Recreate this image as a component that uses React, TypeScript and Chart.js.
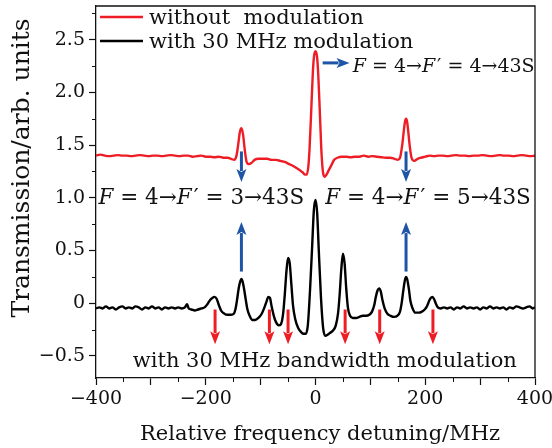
import React, { useEffect, useRef } from 'react';
import { Chart, registerables } from 'chart.js';

Chart.register(...registerables);

// ---------- data ----------
const seriesLabels = ['without  modulation', 'with 30 MHz modulation'];

const redX = [
  -400, -392, -384, -376, -368, -360, -352, -344, -336, -328, -320, -312, -304, -296, -288, -280,
  -272, -264, -256, -248, -240, -232, -224, -216, -208, -200, -192, -184, -176, -168, -160, -154,
  -148, -144, -141, -138, -135, -132, -129, -126, -122, -117, -111, -104, -96, -88, -80, -72,
  -64, -56, -48, -40, -34, -28, -23, -19, -16, -13, -11, -8, -5, -3, 0, 3,
  5, 8, 11, 14, 17, 20, 24, 29, 34, 40, 48, 56, 64, 72, 80, 88,
  96, 104, 112, 120, 128, 136, 144, 150, 154, 158, 161, 163, 165, 167, 169, 172,
  175, 180, 186, 192, 200, 208, 216, 224, 232, 240, 248, 256, 264, 272, 280, 288,
  296, 304, 312, 320, 328, 336, 344, 352, 360, 368, 376, 384, 392, 400,
];
const redY = [
  1.40, 1.41, 1.40, 1.395, 1.40, 1.405, 1.40, 1.40, 1.395, 1.40, 1.405, 1.40, 1.395, 1.40, 1.40, 1.395,
  1.40, 1.405, 1.40, 1.395, 1.40, 1.40, 1.39, 1.395, 1.40, 1.39, 1.39, 1.385, 1.39, 1.38, 1.38, 1.37,
  1.36, 1.40, 1.50, 1.62, 1.66, 1.60, 1.46, 1.35, 1.32, 1.33, 1.36, 1.37, 1.37, 1.37, 1.36, 1.36,
  1.35, 1.34, 1.32, 1.30, 1.28, 1.26, 1.24, 1.22, 1.22, 1.30, 1.45, 1.80, 2.17, 2.33, 2.39, 2.33,
  2.17, 1.80, 1.42, 1.23, 1.20, 1.22, 1.26, 1.31, 1.36, 1.38, 1.39, 1.39, 1.385, 1.39, 1.39, 1.40,
  1.39, 1.395, 1.39, 1.385, 1.38, 1.38, 1.37, 1.36, 1.38, 1.50, 1.64, 1.72, 1.75, 1.72, 1.63, 1.48,
  1.38, 1.35, 1.37, 1.38, 1.39, 1.40, 1.395, 1.40, 1.40, 1.395, 1.40, 1.405, 1.40, 1.40, 1.395, 1.40,
  1.40, 1.405, 1.40, 1.395, 1.40, 1.405, 1.40, 1.40, 1.395, 1.40, 1.405, 1.40, 1.395, 1.40,
];

const blackX = [
  -400, -394, -388, -382, -376, -370, -364, -358, -352, -346, -340, -334, -328, -322, -316, -310,
  -304, -298, -292, -286, -280, -274, -268, -262, -256, -250, -244, -238, -234, -231, -226, -220,
  -214, -208, -202, -197, -192, -188, -184, -180, -176, -172, -166, -160, -154, -149, -146, -143,
  -140, -137, -135, -133, -130, -127, -124, -120, -115, -110, -104, -98, -93, -89, -86, -83,
  -80, -76, -72, -67, -63, -59, -56, -53, -50, -47, -44, -41, -37, -32, -27, -22,
  -18, -14, -10, -6, -3, 0, 3, 6, 10, 14, 18, 22, 27, 32, 37, 41,
  44, 47, 50, 53, 56, 59, 63, 68, 74, 80, 86, 92, 98, 103, 107, 110,
  113, 116, 119, 122, 126, 131, 137, 143, 149, 154, 157, 160, 163, 165, 167, 170,
  173, 177, 182, 188, 194, 199, 203, 207, 210, 213, 216, 219, 223, 228, 234, 240,
  246, 252, 258, 264, 270, 276, 282, 288, 294, 300, 306, 312, 318, 324, 330, 336,
  342, 348, 354, 360, 366, 372, 378, 384, 390, 396, 400,
];
const blackY = [
  -0.05, -0.04, -0.05, -0.03, -0.05, -0.04, -0.06, -0.04, -0.03, -0.05, -0.04, -0.05, -0.03, -0.04, -0.06, -0.04,
  -0.05, -0.03, -0.05, -0.04, -0.06, -0.04, -0.05, -0.04, -0.05, -0.04, -0.05, -0.04, -0.01, -0.05, -0.06, -0.07,
  -0.06, -0.05, -0.04, -0.01, 0.03, 0.05, 0.06, 0.04, -0.02, -0.07, -0.10, -0.11, -0.11, -0.10, -0.06, 0.03,
  0.14, 0.21, 0.23, 0.21, 0.13, 0.03, -0.06, -0.12, -0.16, -0.16, -0.14, -0.10, -0.04, 0.02, 0.06, 0.05,
  -0.03, -0.12, -0.18, -0.21, -0.20, -0.10, 0.08, 0.30, 0.43, 0.38, 0.18, -0.02, -0.15, -0.23, -0.27, -0.29,
  -0.29, -0.21, 0.12, 0.55, 0.88, 0.98, 0.86, 0.50, 0.05, -0.24, -0.31, -0.30, -0.28, -0.26, -0.21, -0.10,
  0.08, 0.32, 0.47, 0.38, 0.14, -0.04, -0.12, -0.14, -0.14, -0.13, -0.12, -0.12, -0.11, -0.08, -0.02, 0.06,
  0.12, 0.14, 0.11, 0.03, -0.05, -0.10, -0.12, -0.13, -0.12, -0.08, 0.00, 0.12, 0.22, 0.25, 0.23, 0.14,
  0.02, -0.05, -0.09, -0.09, -0.08, -0.06, -0.03, 0.02, 0.05, 0.06, 0.04, 0.00, -0.04, -0.05, -0.04, -0.05,
  -0.04, -0.06, -0.04, -0.05, -0.03, -0.05, -0.04, -0.05, -0.04, -0.06, -0.04, -0.05, -0.03, -0.05, -0.04, -0.05,
  -0.04, -0.06, -0.04, -0.05, -0.03, -0.04, -0.05, -0.04, -0.03, -0.05, -0.04,
];

const xTickValues = [-400, -300, -200, -100, 0, 100, 200, 300, 400];
const xTickLabels = ['−400', '', '−200', '', '0', '', '200', '', '400'];
const xMinorValues = [-350, -250, -150, -50, 50, 150, 250, 350];
const yTickValues = [-0.5, 0, 0.5, 1, 1.5, 2, 2.5];
const yTickLabels = ['−0.5', '0', '0.5', '1.0', '1.5', '2.0', '2.5'];
const yMinorValues = [-0.25, 0.25, 0.75, 1.25, 1.75, 2.25, 2.75];

const xTitle = 'Relative frequency detuning/MHz';
const yTitle = 'Transmission/arb. units';

// annotation arrows (data coordinates)
const blueDownX = [-135, 165];
const blueUpX = [-135, 165];
const redArrowX = [-183, -84, -50, 54, 117, 214];

type Seg = { t: string; it?: boolean; sans?: boolean };
const label44: Seg[] = [{ t: 'F', it: true }, { t: ' = 4→' }, { t: 'F', it: true }, { t: '\u200A′', sans: true }, { t: ' = 4→43S' }];
const label43: Seg[] = [{ t: 'F', it: true }, { t: ' = 4→' }, { t: 'F', it: true }, { t: '\u200A′', sans: true }, { t: ' = 3→43S' }];
const label45: Seg[] = [{ t: 'F', it: true }, { t: ' = 4→' }, { t: 'F', it: true }, { t: '\u200A′', sans: true }, { t: ' = 5→43S' }];
const bandwidthLabel = 'with 30 MHz bandwidth modulation';

// ---------- styles ----------
const RED = '#ee1d25';
const BLUE = '#1f55a6';
const INK = '#111111';
const FONT = '"DejaVu Serif", "Liberation Serif", serif';
const SANS = '"DejaVu Sans", sans-serif';

function arrow(ctx: CanvasRenderingContext2D, x0: number, y0: number, x1: number, y1: number, color: string) {
  const head = 13;
  const hw = 5;
  const dx = x1 - x0;
  const dy = y1 - y0;
  const len = Math.hypot(dx, dy);
  const ux = dx / len;
  const uy = dy / len;
  const bx = x1 - ux * head;
  const by = y1 - uy * head;
  ctx.strokeStyle = color;
  ctx.fillStyle = color;
  ctx.lineWidth = 3;
  ctx.beginPath();
  ctx.moveTo(x0, y0);
  ctx.lineTo(bx + ux * 2, by + uy * 2);
  ctx.stroke();
  ctx.beginPath();
  ctx.moveTo(x1, y1);
  ctx.lineTo(bx - uy * hw, by + ux * hw);
  ctx.lineTo(bx + ux * 3, by + uy * 3);
  ctx.lineTo(bx + uy * hw, by - ux * hw);
  ctx.closePath();
  ctx.fill();
}

function drawRich(
  ctx: CanvasRenderingContext2D,
  segs: Seg[],
  anchorX: number,
  baseline: number,
  size: number,
  align: 'left' | 'center' = 'center',
) {
  const fonts = segs.map((s) => `${s.it ? 'italic ' : ''}${size}px ${s.sans ? SANS : FONT}`);
  const widths = segs.map((s, i) => {
    ctx.font = fonts[i];
    return ctx.measureText(s.t).width;
  });
  const total = widths.reduce((a, b) => a + b, 0);
  let x = align === 'center' ? anchorX - total / 2 : anchorX;
  ctx.textAlign = 'left';
  ctx.textBaseline = 'alphabetic';
  segs.forEach((s, i) => {
    ctx.font = fonts[i];
    ctx.fillText(s.t, x, baseline);
    x += widths[i];
  });
}

const decorPlugin = {
  id: 'decor',
  afterDraw(chart: any) {
    const { ctx, chartArea: a } = chart;
    const xs = chart.scales.x;
    const ys = chart.scales.y;
    const px = (v: number) => xs.getPixelForValue(v);
    const py = (v: number) => ys.getPixelForValue(v);
    ctx.save();
    // frame top/right
    ctx.strokeStyle = INK;
    ctx.lineWidth = 1.3;
    ctx.beginPath();
    ctx.moveTo(a.left, a.top);
    ctx.lineTo(a.right, a.top);
    ctx.lineTo(a.right, a.bottom);
    ctx.stroke();
    // minor ticks
    ctx.lineWidth = 1;
    ctx.beginPath();
    xMinorValues.forEach((v) => {
      const p = Math.round(px(v)) + 0.5;
      ctx.moveTo(p, a.bottom);
      ctx.lineTo(p, a.bottom + 4);
    });
    yMinorValues.forEach((v) => {
      const p = Math.round(py(v)) + 0.5;
      ctx.moveTo(a.left - 4, p);
      ctx.lineTo(a.left, p);
    });
    ctx.stroke();

    // arrows
    blueDownX.forEach((v) => arrow(ctx, px(v), py(1.44), px(v), py(1.15), BLUE));
    blueUpX.forEach((v) => arrow(ctx, px(v), py(0.30), px(v), py(0.77), BLUE));
    redArrowX.forEach((v) => arrow(ctx, px(v), py(-0.06), px(v), py(-0.39), RED));
    arrow(ctx, px(13), py(2.28), px(62), py(2.28), BLUE);

    // annotation texts
    ctx.fillStyle = INK;
    drawRich(ctx, label44, px(68), py(2.19), 19, 'left');
    drawRich(ctx, label43, px(-208), py(0.943), 21.5);
    drawRich(ctx, label45, px(205), py(0.943), 21.5);
    drawRich(ctx, [{ t: bandwidthLabel }], px(17), py(-0.605), 21);

    // legend
    const colors = [RED, '#000000'];
    seriesLabels.forEach((lab, i) => {
      const ly = a.top + 11 + i * 24;
      ctx.strokeStyle = colors[i];
      ctx.lineWidth = 2.6;
      ctx.beginPath();
      ctx.moveTo(a.left + 4, ly);
      ctx.lineTo(a.left + 47, ly);
      ctx.stroke();
      ctx.fillStyle = INK;
      ctx.font = `21px ${FONT}`;
      ctx.textAlign = 'left';
      ctx.textBaseline = 'alphabetic';
      ctx.fillText(lab, a.left + 53, ly + 7);
    });

    // axis titles
    ctx.fillStyle = INK;
    ctx.textAlign = 'center';
    ctx.textBaseline = 'alphabetic';
    ctx.font = `21px ${FONT}`;
    ctx.fillText(xTitle, 320, 440);

    ctx.save();
    ctx.translate(29, 168);
    ctx.rotate(-Math.PI / 2);
    ctx.font = `25px ${FONT}`;
    ctx.fillText(yTitle, 0, 0);
    ctx.restore();

    ctx.restore();
  },
};

export default function App() {
  const ref = useRef<HTMLCanvasElement>(null);
  useEffect(() => {
    const canvas = ref.current;
    if (!canvas) return;
    const chart = new Chart(canvas, {
      type: 'line',
      data: {
        datasets: [
          {
            label: seriesLabels[0],
            data: redX.map((x, i) => ({ x, y: redY[i] })),
            borderColor: RED,
            borderWidth: 2.4,
            pointRadius: 0,
            cubicInterpolationMode: 'monotone',
            fill: false,
          },
          {
            label: seriesLabels[1],
            data: blackX.map((x, i) => ({ x, y: blackY[i] })),
            borderColor: '#000000',
            borderWidth: 2.4,
            pointRadius: 0,
            cubicInterpolationMode: 'monotone',
            fill: false,
          },
        ],
      },
      options: {
        animation: false,
        responsive: false,
        maintainAspectRatio: false,
        layout: { padding: { top: 6, right: 17, left: 0, bottom: 0 } },
        plugins: { legend: { display: false }, tooltip: { enabled: false } },
        scales: {
          x: {
            type: 'linear',
            min: -400,
            max: 400,
            afterBuildTicks: (s: any) => {
              s.ticks = xTickValues.map((v) => ({ value: v }));
            },
            afterFit: (s: any) => {
              s.height = 70;
              s.paddingLeft = 0;
              s.paddingRight = 0;
            },
            ticks: {
              autoSkip: false,
              maxRotation: 0,
              padding: 3,
              color: INK,
              font: { family: FONT, size: 19 },
              callback: (v: any) => {
                const i = xTickValues.indexOf(Number(v));
                return i >= 0 ? xTickLabels[i] : '';
              },
            },
            grid: { drawOnChartArea: false, drawTicks: true, tickLength: 7, tickColor: INK, tickWidth: 1.2 },
            border: { color: INK, width: 1.3 },
            title: { display: false },
          },
          y: {
            type: 'linear',
            min: -0.71,
            max: 2.82,
            afterBuildTicks: (s: any) => {
              s.ticks = yTickValues.map((v) => ({ value: v }));
            },
            afterFit: (s: any) => {
              s.width = 96;
              s.paddingTop = 0;
              s.paddingBottom = 0;
            },
            ticks: {
              padding: 4,
              color: INK,
              font: { family: FONT, size: 19 },
              callback: (v: any) => {
                const i = yTickValues.indexOf(Number(v));
                return i >= 0 ? yTickLabels[i] : '';
              },
            },
            grid: { drawOnChartArea: false, drawTicks: true, tickLength: 7, tickColor: INK, tickWidth: 1.2 },
            border: { color: INK, width: 1.3 },
          },
        },
      } as any,
      plugins: [decorPlugin],
    });
    return () => chart.destroy();
  }, []);
  return (
    <div style={{ position: 'fixed', left: 0, top: 0, width: 552, height: 448, background: '#fff' }}>
      <canvas ref={ref} width={552} height={448} style={{ width: 552, height: 448, display: 'block' }} />
    </div>
  );
}
